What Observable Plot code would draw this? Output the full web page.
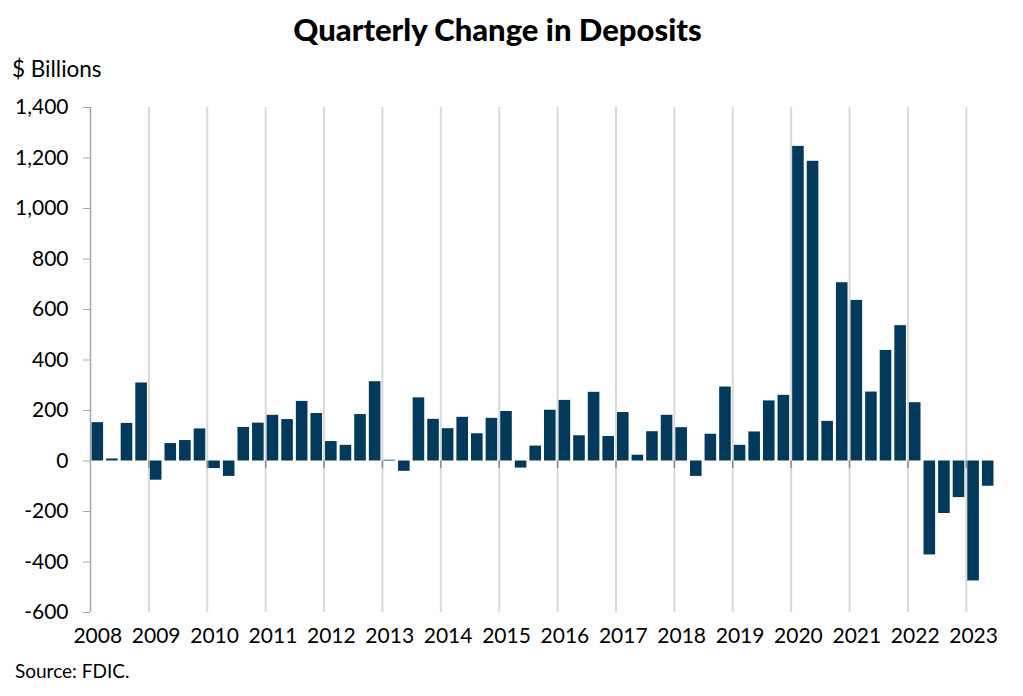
<!DOCTYPE html>
<html><head><meta charset="utf-8">
<script src="https://cdn.jsdelivr.net/npm/d3@7"></script>
<script src="https://cdn.jsdelivr.net/npm/@observablehq/plot@0.6"></script>
<style>
body{margin:0;background:#fff;font-family:Lato,"Noto Sans",sans-serif;color:#000}
#wrap{position:relative;width:1023px;height:696px;overflow:hidden}
#title{position:absolute;top:10px;left:0;width:995px;text-align:center;font-weight:900;font-size:31px;z-index:2}
#ylab{position:absolute;left:12px;top:55px;font-size:22.5px;z-index:2}
#src{position:absolute;left:15px;top:659px;font-size:19px;z-index:2}
#chart{position:absolute;left:0;top:50px;z-index:1}
</style></head>
<body>
<div id="wrap">
<div id="chart"></div>
<div id="title">Quarterly Change in Deposits</div>
<div id="ylab">$ Billions</div>
<div id="src">Source: FDIC.</div>
</div>
<script>
const startYear = 2008;
const changes = [
  152, 8, 149, 309,
  -76, 69, 81, 127,
  -30, -61, 133, 150,
  181, 164, 236, 188,
  77, 62, 184, 314,
  3, -41, 250, 165,
  128, 173, 108, 169,
  196, -28, 59, 201,
  240, 100, 272, 97,
  192, 23, 116, 181,
  132, -61, 106, 293,
  62, 115, 238, 260,
  1246, 1187, 157, 706,
  636, 273, 438, 536,
  231, -372, -208, -145,
  -475, -100
];
const yearLabels = [2008,2009,2010,2011,2012,2013,2014,2015,2016,2017,2018,2019,2020,2021,2022,2023];
const yearBoundaries = [2009,2010,2011,2012,2013,2014,2015,2016,2017,2018,2019,2020,2021,2022,2023];
const yTicks = [-600,-400,-200,0,200,400,600,800,1000,1200,1400];

const data = changes.map((v, i) => ({
  start: startYear + Math.floor(i / 4) + (i % 4) / 4,
  end: startYear + Math.floor(i / 4) + (i % 4 + 1) / 4,
  value: v
}));

const chart = Plot.plot({
  width: 1023,
  height: 610,
  marginTop: 57,
  marginBottom: 48,
  marginLeft: 90,
  marginRight: 28,
  style: {fontFamily: "Lato, 'Noto Sans', sans-serif", fontSize: "21px", color: "#000", background: "transparent"},
  x: {domain: [2008, 2023.5]},
  y: {domain: [-600, 1400]},
  marks: [
    Plot.ruleX(yearBoundaries, {x: d => d, stroke: "#d9d9d9", strokeWidth: 2}),
    Plot.rectY(data, {x1: "start", x2: "end", y: "value", fill: "#033a5c", insetLeft: 1.5, insetRight: 1.5}),
    Plot.ruleX(yearBoundaries, {x: d => d, y1: 0, y2: -30, stroke: "#8c8c8c", strokeWidth: 1.5}),
    Plot.ruleX([startYear], {stroke: "#a6a6a6", strokeWidth: 1.5}),
    Plot.axisY({ticks: yTicks, tickFormat: d => d.toLocaleString("en-US"), tickSize: 7, tickPadding: 15, stroke: "#a6a6a6", fill: "#000", label: null}),
    Plot.axisX({ticks: yearLabels.map(y => y + 0.125), tickFormat: d => String(Math.floor(d)), tickSize: 0, tickPadding: 16, fill: "#000", label: null})
  ]
});
document.getElementById("chart").appendChild(chart);
</script>
</body></html>
